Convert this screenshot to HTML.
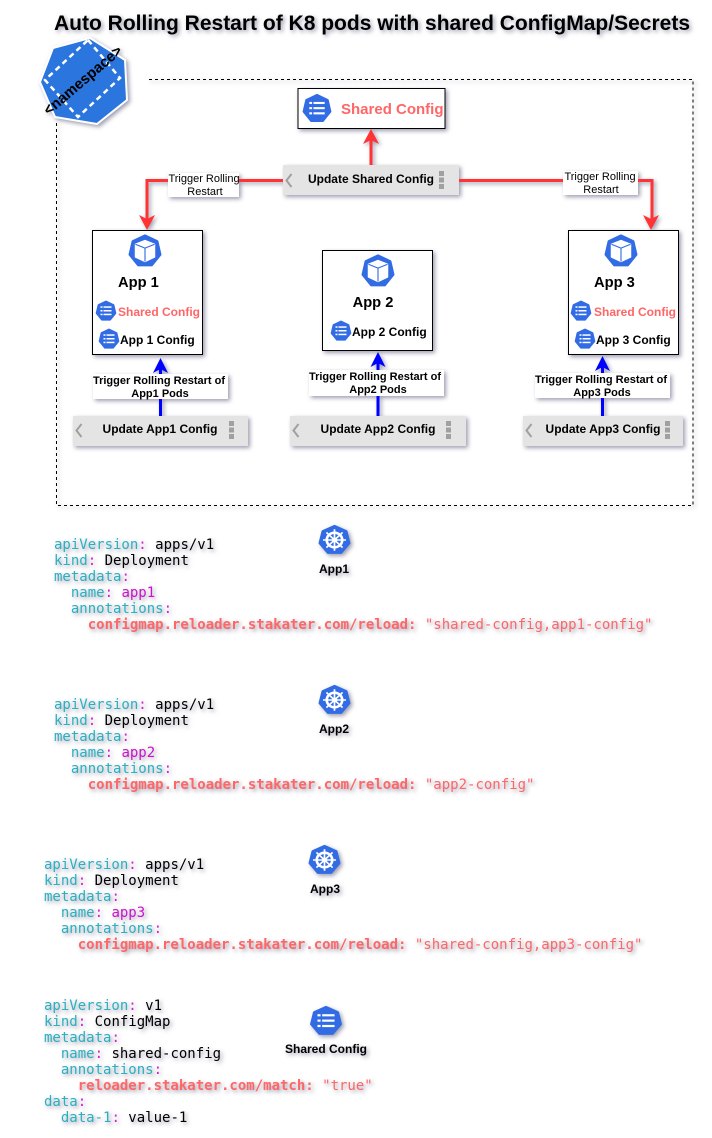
<!DOCTYPE html>
<html>
<head>
<meta charset="utf-8">
<style>
html,body{margin:0;padding:0;background:#fff;width:712px;height:1138px;overflow:hidden}
svg{display:block}
.all{filter:drop-shadow(2px 2px 2px rgba(60,60,100,.5)) blur(.3px)}
text{font-family:"Liberation Sans",sans-serif;font-weight:bold;fill:#000}
.c{text-anchor:middle}
.lb{font-size:11px}
.ln{font-size:11px;font-weight:normal}
.btn{font-size:12px}
.red{fill:#ff6666}
.code text{font-family:"DejaVu Sans Mono","Liberation Mono",monospace;font-size:14px;font-weight:normal;white-space:pre}
.k{fill:#2ab0bf}.p{fill:#d020d0}.b{fill:#000}.m{fill:#cc11cc}.r{fill:#ff6666}.rb{fill:#ff6666;font-weight:bold}
</style>
</head>
<body>
<svg width="712" height="1138" viewBox="0 0 712 1138" xmlns="http://www.w3.org/2000/svg">
<defs>
<g id="hep"><polygon points="0,-.96 .76,-.6 .95,.22 .42,.88 -.42,.88 -.95,.22 -.76,-.6" fill="#326ce5" stroke="#326ce5" stroke-width=".16" stroke-linejoin="round"/></g>
<g id="cfg"><use href="#hep"/>
<g fill="#fff"><rect x="-.55" y="-.47" width=".2" height=".15"/><rect x="-.25" y="-.47" width=".8" height=".15"/>
<rect x="-.55" y="-.1" width=".2" height=".15"/><rect x="-.25" y="-.1" width=".8" height=".15"/>
<rect x="-.55" y=".27" width=".2" height=".15"/><rect x="-.25" y=".27" width=".8" height=".15"/></g></g>
<g id="pod"><use href="#hep"/>
<g fill="none" stroke-linejoin="round"><polygon points="0,-.66 .6,-.42 .6,.38 0,.66 -.6,.38 -.6,-.42" fill="#fff" stroke="#fff" stroke-width=".08"/>
<path d="M-.6,-.42 L0,-.18 L.6,-.42 M0,-.18 V.66" stroke="#326ce5" stroke-width=".07"/></g></g>
<g id="k8s"><use href="#hep"/>
<g fill="none" stroke="#fff"><circle r=".5" stroke-width=".17"/><circle r=".17" fill="#fff" stroke="none"/>
<path d="M0,-.74V.74M-.74,0H.74M-.52,-.52L.52,.52M-.52,.52L.52,-.52" stroke-width=".11"/></g></g>
<g id="chev"><path d="M6.500,1 L1.500,7.500 L6.500,14" fill="none" stroke="#a0a0a0" stroke-width="2"/></g>
<g id="dots" fill="#a0a0a0"><rect x="0" y="0" width="5" height="5"/><rect x="0" y="6.500" width="5" height="5"/><rect x="0" y="13" width="5" height="5"/></g>
</defs>
<g class="all">
<text x="54" y="30" font-size="21" textLength="636" lengthAdjust="spacingAndGlyphs">Auto Rolling Restart of K8 pods with shared ConfigMap/Secrets</text>

<path d="M149,79.500H693V505.500H56.500V120" fill="none" stroke="#000" stroke-width="1" stroke-dasharray="3 3"/>

<polygon points="90,38 125,60 127,100 97,124 55,117 40,82 53,48" fill="#2a75de" stroke="#fff" stroke-width="2" stroke-linejoin="round"/>
<polygon points="88,40 120,78 78,117 45,80" fill="none" stroke="#fff" stroke-width="2.500" stroke-dasharray="5.500 4"/>
<text class="c" font-size="15" textLength="98" lengthAdjust="spacingAndGlyphs" transform="translate(86,84) rotate(-40.500)">&lt;namespace&gt;</text>

<!-- shared config -->
<rect x="298" y="88.500" width="147" height="40" fill="#fff" stroke="#000"/>
<use href="#cfg" transform="translate(317,108.500) scale(14)"/>
<text class="red" x="341" y="114" font-size="15">Shared Config</text>

<!-- red connectors -->
<path d="M371,165V140" stroke="#ff3333" stroke-width="3" fill="none"/>
<polygon points="371,129 379,144 371,140 363,144" fill="#ff3333"/>
<path d="M283,180.500H147V222" stroke="#ff3333" stroke-width="3" fill="none"/>
<polygon points="147,230 139,215 147,219 155,215" fill="#ff3333"/>
<path d="M459,180.500H652V222" stroke="#ff3333" stroke-width="3" fill="none"/>
<polygon points="651,230 643,215 651,219 659,215" fill="#ff3333"/>

<rect x="168" y="173" width="71" height="24" fill="#fff"/>
<text class="ln c" x="204" y="182">Trigger Rolling</text>
<text class="ln c" x="205" y="195">Restart</text>
<rect x="563" y="171" width="75" height="24" fill="#fff"/>
<text class="ln c" x="600" y="180">Trigger Rolling</text>
<text class="ln c" x="601" y="193">Restart</text>

<rect x="283" y="165" width="176" height="30" fill="#e4e4e4"/>
<use href="#chev" x="285" y="173"/>
<use href="#dots" x="439" y="171"/>
<text class="btn c" x="371" y="183">Update Shared Config</text>

<!-- App 1 -->
<rect x="92.500" y="230.500" width="110" height="124" fill="#fff" stroke="#000"/>
<use href="#pod" transform="translate(145,251) scale(16)"/>
<text x="118" y="287" font-size="14.700">App 1</text>
<use href="#cfg" transform="translate(106,311) scale(10)"/>
<text class="red" x="118" y="316" font-size="12">Shared Config</text>
<use href="#cfg" transform="translate(109,339) scale(10)"/>
<text x="120" y="344" font-size="12">App 1 Config</text>

<!-- App 2 -->
<rect x="322.500" y="250.500" width="110" height="100" fill="#fff" stroke="#000"/>
<use href="#pod" transform="translate(378,271) scale(16)"/>
<text class="c" x="373" y="307" font-size="14.700">App 2</text>
<use href="#cfg" transform="translate(341,331) scale(10)"/>
<text x="352" y="336" font-size="12">App 2 Config</text>

<!-- App 3 -->
<rect x="568.500" y="230.500" width="110" height="124" fill="#fff" stroke="#000"/>
<use href="#pod" transform="translate(621,251) scale(16)"/>
<text x="594" y="287" font-size="14.700">App 3</text>
<use href="#cfg" transform="translate(581,311) scale(10)"/>
<text class="red" x="594" y="316" font-size="12">Shared Config</text>
<use href="#cfg" transform="translate(585,339) scale(10)"/>
<text x="596" y="344" font-size="12">App 3 Config</text>

<!-- blue connectors -->
<path d="M160.500,416V366" stroke="#0000ff" stroke-width="3"/>
<polygon points="160.500,358 168,373 160.500,369 153,373" fill="#0000ff"/>
<path d="M378,416V360" stroke="#0000ff" stroke-width="3"/>
<polygon points="378,352 385.500,367 378,363 370.500,367" fill="#0000ff"/>
<path d="M602.500,416V364" stroke="#0000ff" stroke-width="3"/>
<polygon points="602.500,356 610,371 602.500,367 595,371" fill="#0000ff"/>

<rect x="93" y="374" width="135" height="25" fill="#fff"/>
<text class="lb c" x="159" y="384">Trigger Rolling Restart of</text>
<text class="lb c" x="160" y="397">App1 Pods</text>
<rect x="309" y="370" width="135" height="26" fill="#fff"/>
<text class="lb c" x="375" y="380">Trigger Rolling Restart of</text>
<text class="lb c" x="378" y="393">App2 Pods</text>
<rect x="535" y="373" width="135" height="25" fill="#fff"/>
<text class="lb c" x="601" y="383">Trigger Rolling Restart of</text>
<text class="lb c" x="602" y="396">App3 Pods</text>

<rect x="73" y="416" width="175" height="30" fill="#e4e4e4"/>
<use href="#chev" x="75" y="423"/>
<use href="#dots" x="229" y="421"/>
<text class="btn c" x="160" y="433">Update App1 Config</text>
<rect x="290" y="416" width="176" height="30" fill="#e4e4e4"/>
<use href="#chev" x="292" y="423"/>
<use href="#dots" x="446" y="421"/>
<text class="btn c" x="378" y="433">Update App2 Config</text>
<rect x="523" y="416" width="160" height="30" fill="#e4e4e4"/>
<use href="#chev" x="525" y="423"/>
<use href="#dots" x="665" y="421"/>
<text class="btn c" x="603" y="433">Update App3 Config</text>

<!-- code -->
<g class="code">
<text x="54" y="549" xml:space="preserve"><tspan class="k">apiVersion</tspan><tspan class="p">:</tspan><tspan class="b"> apps/v1</tspan></text>
<text x="54" y="565" xml:space="preserve"><tspan class="k">kind</tspan><tspan class="p">:</tspan><tspan class="b"> Deployment</tspan></text>
<text x="54" y="581" xml:space="preserve"><tspan class="k">metadata</tspan><tspan class="p">:</tspan></text>
<text x="54" y="597" xml:space="preserve"><tspan class="k">  name</tspan><tspan class="p">:</tspan><tspan class="m"> app1</tspan></text>
<text x="54" y="613" xml:space="preserve"><tspan class="k">  annotations</tspan><tspan class="p">:</tspan></text>
<text x="54" y="629" xml:space="preserve"><tspan class="rb">    configmap.reloader.stakater.com/reload:</tspan><tspan class="r"> "shared-config,app1-config"</tspan></text>

<text x="54" y="709" xml:space="preserve"><tspan class="k">apiVersion</tspan><tspan class="p">:</tspan><tspan class="b"> apps/v1</tspan></text>
<text x="54" y="725" xml:space="preserve"><tspan class="k">kind</tspan><tspan class="p">:</tspan><tspan class="b"> Deployment</tspan></text>
<text x="54" y="741" xml:space="preserve"><tspan class="k">metadata</tspan><tspan class="p">:</tspan></text>
<text x="54" y="757" xml:space="preserve"><tspan class="k">  name</tspan><tspan class="p">:</tspan><tspan class="m"> app2</tspan></text>
<text x="54" y="773" xml:space="preserve"><tspan class="k">  annotations</tspan><tspan class="p">:</tspan></text>
<text x="54" y="789" xml:space="preserve"><tspan class="rb">    configmap.reloader.stakater.com/reload:</tspan><tspan class="r"> "app2-config"</tspan></text>

<text x="44" y="869" xml:space="preserve"><tspan class="k">apiVersion</tspan><tspan class="p">:</tspan><tspan class="b"> apps/v1</tspan></text>
<text x="44" y="885" xml:space="preserve"><tspan class="k">kind</tspan><tspan class="p">:</tspan><tspan class="b"> Deployment</tspan></text>
<text x="44" y="901" xml:space="preserve"><tspan class="k">metadata</tspan><tspan class="p">:</tspan></text>
<text x="44" y="917" xml:space="preserve"><tspan class="k">  name</tspan><tspan class="p">:</tspan><tspan class="m"> app3</tspan></text>
<text x="44" y="933" xml:space="preserve"><tspan class="k">  annotations</tspan><tspan class="p">:</tspan></text>
<text x="44" y="949" xml:space="preserve"><tspan class="rb">    configmap.reloader.stakater.com/reload:</tspan><tspan class="r"> "shared-config,app3-config"</tspan></text>

<text x="44" y="1010" xml:space="preserve"><tspan class="k">apiVersion</tspan><tspan class="p">:</tspan><tspan class="b"> v1</tspan></text>
<text x="44" y="1026" xml:space="preserve"><tspan class="k">kind</tspan><tspan class="p">:</tspan><tspan class="b"> ConfigMap</tspan></text>
<text x="44" y="1042" xml:space="preserve"><tspan class="k">metadata</tspan><tspan class="p">:</tspan></text>
<text x="44" y="1058" xml:space="preserve"><tspan class="k">  name</tspan><tspan class="p">:</tspan><tspan class="b"> shared-config</tspan></text>
<text x="44" y="1074" xml:space="preserve"><tspan class="k">  annotations</tspan><tspan class="p">:</tspan></text>
<text x="44" y="1090" xml:space="preserve"><tspan class="rb">    reloader.stakater.com/match:</tspan><tspan class="r"> "true"</tspan></text>
<text x="44" y="1106" xml:space="preserve"><tspan class="k">data</tspan><tspan class="p">:</tspan></text>
<text x="44" y="1122" xml:space="preserve"><tspan class="k">  data-1</tspan><tspan class="p">:</tspan><tspan class="b"> value-1</tspan></text>
</g>

<use href="#k8s" transform="translate(334.500,540) scale(15.500,14.500)"/>
<text class="c" x="334" y="573" font-size="12">App1</text>
<use href="#k8s" transform="translate(334.500,700) scale(15.500,14.500)"/>
<text class="c" x="334" y="733" font-size="12">App2</text>
<use href="#k8s" transform="translate(324.500,860) scale(15.500,14.500)"/>
<text class="c" x="325" y="893" font-size="12">App3</text>
<use href="#cfg" transform="translate(326,1021) scale(15.500,14.500)"/>
<text class="c" x="326" y="1053" font-size="12">Shared Config</text>
</g>
</svg>
</body>
</html>
